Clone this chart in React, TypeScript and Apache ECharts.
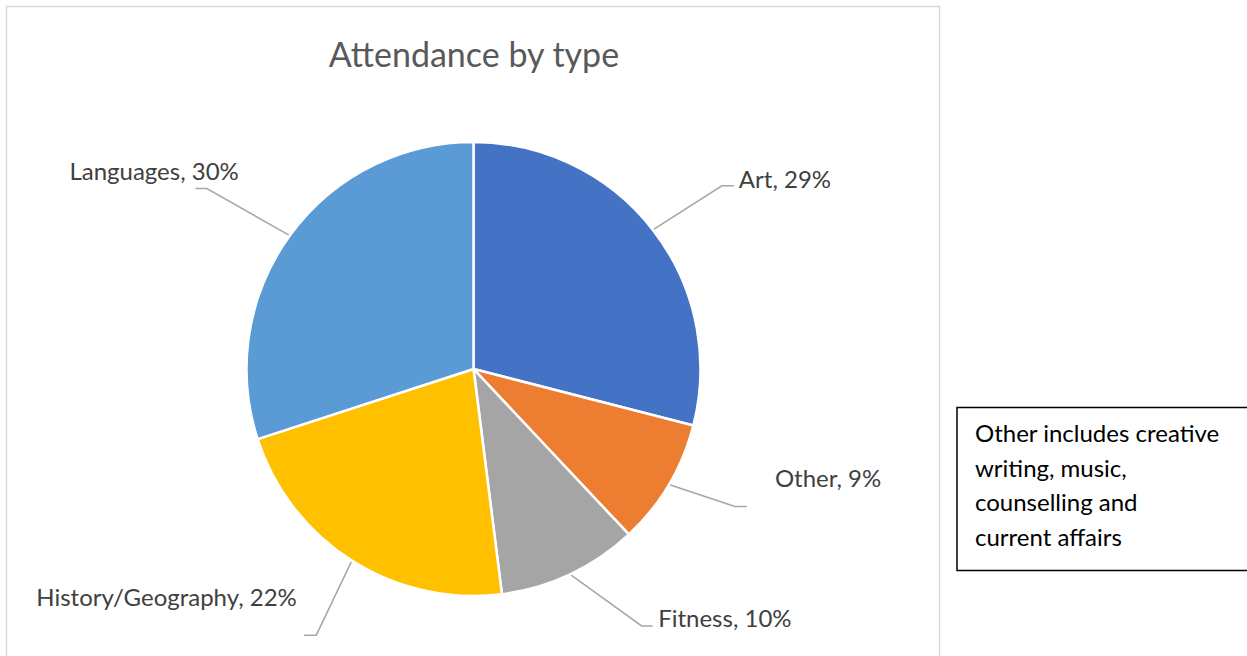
import React, { useEffect, useRef } from "react";
import * as echarts from "echarts";

const categories = ["Art", "Other", "Fitness", "History/Geography", "Languages"];
const values = [29, 9, 10, 22, 30];
const colors = ["#4472C4", "#ED7D31", "#A5A5A5", "#FFC000", "#5B9BD5"];
const titleText = "Attendance by type";
const noteText = "Other includes creative\nwriting, music,\ncounselling and\ncurrent affairs";

// label layout offsets relative to the leader-line anchor on the slice edge
const LABEL_LAYOUT = [
  { kx: 69, ky: -44, ex: 81, tx: 86, ty: -51, align: "left" },
  { kx: 66, ky: 22, ex: 78, tx: 106, ty: -7, align: "left" },
  { kx: 71.5, ky: 51.5, ex: 82.5, tx: 88, ty: 43, align: "left" },
  { kx: -35.6, ky: 74.5, ex: -48, tx: -55, ty: 36, align: "right" },
  { kx: -83, ky: -47, ex: -94.5, tx: -51, ty: -65.4, align: "right" },
];

const FONT = "Lato, 'Open Sans', sans-serif";

export default function App() {
  const ref = useRef<HTMLDivElement>(null);
  useEffect(() => {
    if (!ref.current) return;
    const chart = echarts.init(ref.current, null, { renderer: "svg" });
    chart.setOption({
      animation: false,
      backgroundColor: "#ffffff",
      graphic: [
        {
          type: "rect",
          shape: { x: 6.5, y: 6.5, width: 933, height: 680 },
          style: { fill: "none", stroke: "#D9D9D9", lineWidth: 1.5 },
          silent: true,
        },
        {
          type: "text",
          x: 474,
          y: 53,
          style: {
            text: titleText,
            fill: "#595959",
            font: `34px ${FONT}`,
            align: "center",
            verticalAlign: "middle",
          },
        },
        {
          type: "rect",
          shape: { x: 957, y: 407.5, width: 300, height: 163 },
          style: { fill: "#fff", stroke: "#000", lineWidth: 1.5 },
        },
        {
          type: "text",
          x: 975,
          y: 415,
          style: {
            text: noteText,
            fill: "#000",
            font: `24px ${FONT}`,
            lineHeight: 34.7,
            align: "left",
            verticalAlign: "top",
          },
        },
      ],
      series: [
        {
          type: "pie",
          center: [473.5, 369],
          radius: 227,
          startAngle: 90,
          clockwise: true,
          itemStyle: { borderColor: "#fff", borderWidth: 2.5 },
          label: {
            show: true,
            position: "outside",
            formatter: "{b}, {d}%",
            color: "#404040",
            fontFamily: FONT,
            fontSize: 24,
          },
          labelLine: {
            show: true,
            length: 60,
            length2: 12,
            lineStyle: { color: "#A6A6A6", width: 1.5 },
          },
          labelLayout: (params: any) => {
            const p = params.labelLinePoints;
            const o = LABEL_LAYOUT[params.dataIndex];
            if (!p || !o) return {};
            const ax = p[0][0];
            const ay = p[0][1];
            return {
              x: ax + o.tx,
              y: ay + o.ty,
              align: o.align,
              verticalAlign: "middle",
              labelLinePoints: [
                [ax, ay],
                [ax + o.kx, ay + o.ky],
                [ax + o.ex, ay + o.ky],
              ],
            };
          },
          data: categories.map((name, i) => ({
            name,
            value: values[i],
            itemStyle: { color: colors[i] },
          })),
        },
      ],
    });
    return () => chart.dispose();
  }, []);
  return (
    <div
      ref={ref}
      style={{ position: "absolute", left: 0, top: 0, width: 1247, height: 656 }}
    />
  );
}
